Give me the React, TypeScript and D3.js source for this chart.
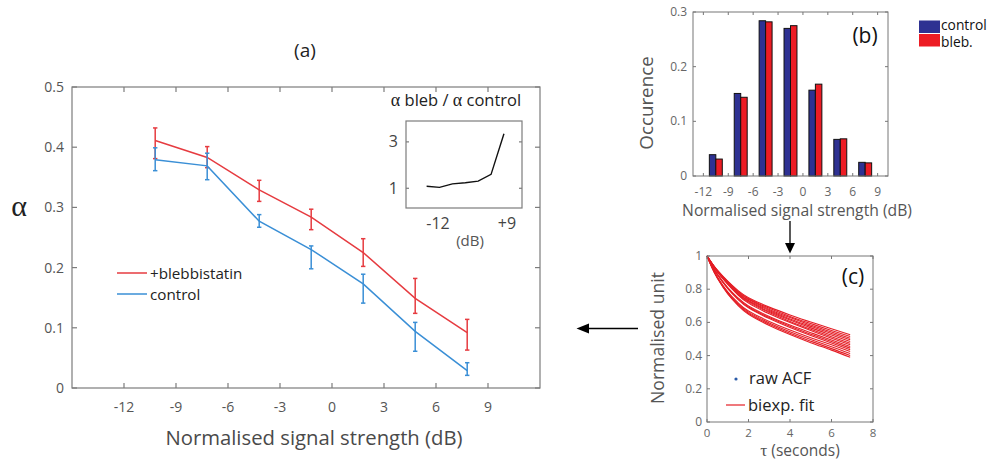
import React from 'react';
import * as d3 from 'd3';

// ---------- Panel (a) data ----------
const dbCenters = [-10.2, -7.2, -4.2, -1.2, 1.8, 4.8, 7.8];
const alphaBleb = [0.411, 0.383, 0.329, 0.284, 0.225, 0.149, 0.092];
const blebHi = [0.432, 0.401, 0.345, 0.297, 0.248, 0.182, 0.114];
const blebLo = [0.381, 0.366, 0.310, 0.263, 0.202, 0.124, 0.063];
const alphaControl = [0.379, 0.369, 0.277, 0.230, 0.173, 0.094, 0.029];
const controlHi = [0.399, 0.390, 0.288, 0.236, 0.189, 0.109, 0.042];
const controlLo = [0.361, 0.346, 0.267, 0.198, 0.141, 0.061, 0.021];
const mainXTicks = [-12, -9, -6, -3, 0, 3, 6, 9];
const mainYTicks = [0, 0.1, 0.2, 0.3, 0.4, 0.5];
const seriesNames = ['+blebbistatin', 'control'];

// inset ratio
const ratioValues = [1.09, 1.04, 1.19, 1.24, 1.31, 1.60, 3.35];
const insetYTicks = [1, 3];
const insetXLabels = ['-12', '+9'];

// ---------- Panel (b) data ----------
const histCenters = [-10.5, -7.5, -4.5, -1.5, 1.5, 4.5, 7.5];
const occControl = [0.039, 0.151, 0.284, 0.270, 0.157, 0.067, 0.025];
const occBleb = [0.031, 0.144, 0.282, 0.275, 0.168, 0.068, 0.024];
const histXTicks = [-12, -9, -6, -3, 0, 3, 6, 9];
const histYTicks = [0, 0.1, 0.2, 0.3];
const histLegend = ['control', 'bleb.'];

// ---------- Panel (c) data ----------
const tauSamples = [0, 0.25, 0.5, 1, 1.5, 2, 3, 4, 5, 6, 6.9];
const acfCurves = [
  [1, 0.955, 0.915, 0.848, 0.791, 0.749, 0.692, 0.645, 0.602, 0.562, 0.526],
  [1, 0.954, 0.913, 0.845, 0.787, 0.743, 0.685, 0.636, 0.593, 0.551, 0.515],
  [1, 0.953, 0.911, 0.842, 0.782, 0.738, 0.678, 0.629, 0.584, 0.542, 0.505],
  [1, 0.952, 0.909, 0.838, 0.778, 0.732, 0.672, 0.621, 0.576, 0.533, 0.495],
  [1, 0.951, 0.907, 0.835, 0.773, 0.727, 0.665, 0.614, 0.567, 0.524, 0.485],
  [1, 0.950, 0.905, 0.832, 0.769, 0.722, 0.659, 0.606, 0.559, 0.514, 0.475],
  [1, 0.949, 0.904, 0.829, 0.765, 0.716, 0.652, 0.599, 0.551, 0.505, 0.465],
  [1, 0.941, 0.891, 0.810, 0.747, 0.699, 0.636, 0.584, 0.538, 0.494, 0.455],
  [1, 0.940, 0.889, 0.807, 0.742, 0.693, 0.629, 0.577, 0.529, 0.485, 0.445],
  [1, 0.939, 0.887, 0.803, 0.737, 0.688, 0.623, 0.569, 0.521, 0.476, 0.435],
  [1, 0.931, 0.873, 0.784, 0.718, 0.669, 0.606, 0.554, 0.508, 0.465, 0.425],
  [1, 0.929, 0.871, 0.779, 0.712, 0.662, 0.597, 0.544, 0.497, 0.453, 0.412],
  [1, 0.928, 0.868, 0.775, 0.706, 0.655, 0.589, 0.535, 0.487, 0.442, 0.400],
  [1, 0.927, 0.866, 0.771, 0.701, 0.649, 0.582, 0.527, 0.478, 0.433, 0.390],
];
const acfXTicks = [0, 2, 4, 6, 8];
const acfYTicks = [0, 0.2, 0.4, 0.6, 0.8, 1];
const acfLegend = ['raw ACF', 'biexp. fit'];

// ---------- styling ----------
const FONT = "'Open Sans', sans-serif";
const SERIF = "'Liberation Serif', 'DejaVu Serif', serif";
const RED = '#e63b40';
const BLUE = '#3a8fd6';
const BAR_BLUE = '#2e3192';
const BAR_RED = '#ed1c24';
const CURVE_RED = '#e41e26';
const AXIS = '#7c7c7c';
const LABEL = '#555';

const fmt = (v: number) => (v === 0 ? '0' : String(+v.toFixed(2)));

type Scale = d3.ScaleLinear<number, number>;

function BoxTicks({ xs, ys, xTicks, yTicks, len, color, sw = 1 }: {
  xs: Scale; ys: Scale; xTicks: number[]; yTicks: number[]; len: number; color: string; sw?: number;
}) {
  const [x0, x1] = xs.range();
  const [y1, y0] = ys.range();
  return (
    <g stroke={color} strokeWidth={sw} fill="none">
      <rect x={x0} y={y0} width={x1 - x0} height={y1 - y0} />
      {xTicks.map((t) => (
        <g key={'x' + t}>
          <line x1={xs(t)} x2={xs(t)} y1={y1} y2={y1 - len} />
          <line x1={xs(t)} x2={xs(t)} y1={y0} y2={y0 + len} />
        </g>
      ))}
      {yTicks.map((t) => (
        <g key={'y' + t}>
          <line x1={x0} x2={x0 + len} y1={ys(t)} y2={ys(t)} />
          <line x1={x1} x2={x1 - len} y1={ys(t)} y2={ys(t)} />
        </g>
      ))}
    </g>
  );
}

function PanelA() {
  const xs = d3.scaleLinear().domain([-15, 12]).range([72, 540]);
  const ys = d3.scaleLinear().domain([0, 0.5]).range([388, 87]);
  const line = d3.line<[number, number]>().x((d) => xs(d[0])).y((d) => ys(d[1]));
  const series = [
    { name: seriesNames[0], vals: alphaBleb, hi: blebHi, lo: blebLo, color: RED },
    { name: seriesNames[1], vals: alphaControl, hi: controlHi, lo: controlLo, color: BLUE },
  ];
  // inset
  const ixs = d3.scaleLinear().domain([-15, 12]).range([406, 522]);
  const iys = d3.scaleLinear().domain([0.15, 3.9]).range([208, 121]);
  const iline = d3.line<number>().x((_, i) => ixs(dbCenters[i])).y((d) => iys(d));
  return (
    <g>
      <text x={305} y={57} textAnchor="middle" fontFamily={FONT} fontSize={19} fill="#222">(a)</text>
      <BoxTicks xs={xs} ys={ys} xTicks={mainXTicks} yTicks={mainYTicks} len={5} color={AXIS} sw={1.2} />
      {mainXTicks.map((t) => (
        <text key={t} x={xs(t)} y={412} textAnchor="middle" fontFamily={FONT} fontSize={14} fill={LABEL}>{t}</text>
      ))}
      {mainYTicks.map((t) => (
        <text key={t} x={64} y={ys(t) + 5} textAnchor="end" fontFamily={FONT} fontSize={14} fill={LABEL}>{fmt(t)}</text>
      ))}
      <text x={314} y={445} textAnchor="middle" fontFamily={FONT} fontSize={20.3} fill="#4a4a4a">Normalised signal strength (dB)</text>
      <text x={19} y={216} textAnchor="middle" fontFamily={SERIF} fontSize={30} fill="#222">α</text>
      {series.map((s) => (
        <g key={s.name}>
          <path d={line(dbCenters.map((x, i) => [x, s.vals[i]]) as [number, number][]) || ''} fill="none" stroke={s.color} strokeWidth={1.5} />
          {dbCenters.map((x, i) => (
            <g key={i} stroke={s.color} strokeWidth={1.5}>
              <line x1={xs(x)} x2={xs(x)} y1={ys(s.hi[i])} y2={ys(s.lo[i])} />
              <line x1={xs(x) - 2.2} x2={xs(x) + 2.2} y1={ys(s.hi[i])} y2={ys(s.hi[i])} />
              <line x1={xs(x) - 2.2} x2={xs(x) + 2.2} y1={ys(s.lo[i])} y2={ys(s.lo[i])} />
            </g>
          ))}
        </g>
      ))}
      {series.map((s, i) => (
        <g key={'lg' + i}>
          <line x1={117} x2={147} y1={273 + i * 21} y2={273 + i * 21} stroke={s.color} strokeWidth={1.5} />
          <text x={150} y={278.5 + i * 21} fontFamily={FONT} fontSize={15.2} fill="#222">{s.name}</text>
        </g>
      ))}
      {/* inset */}
      <text x={456} y={106} textAnchor="middle" fontFamily={FONT} fontSize={16.5} fill="#222">
        <tspan fontFamily={SERIF} fontSize={18}>α</tspan> bleb / <tspan fontFamily={SERIF} fontSize={18}>α</tspan> control
      </text>
      <BoxTicks xs={ixs} ys={iys} xTicks={[]} yTicks={insetYTicks} len={3} color={AXIS} sw={1.2} />
      {insetYTicks.map((t) => (
        <text key={t} x={398} y={iys(t) + 5.5} textAnchor="end" fontFamily={FONT} fontSize={16} fill="#444">{t}</text>
      ))}
      <path d={iline(ratioValues) || ''} fill="none" stroke="#111" strokeWidth={1.4} />
      <text x={438} y={229} textAnchor="middle" fontFamily={FONT} fontSize={16} fill="#444">{insetXLabels[0]}</text>
      <text x={507} y={229} textAnchor="middle" fontFamily={FONT} fontSize={16} fill="#444">{insetXLabels[1]}</text>
      <text x={470} y={246} textAnchor="middle" fontFamily={FONT} fontSize={15} fill="#555">(dB)</text>
    </g>
  );
}

function PanelB() {
  const xs = d3.scaleLinear().domain([-13.25, 10.25]).range([693, 888]);
  const ys = d3.scaleLinear().domain([0, 0.3]).range([176, 12]);
  const bw = 0.78;
  return (
    <g>
      {histCenters.map((c, i) => (
        <g key={i} stroke="#111" strokeWidth={1}>
          <rect x={xs(c - bw)} y={ys(occControl[i])} width={xs(c) - xs(c - bw)} height={ys(0) - ys(occControl[i])} fill={BAR_BLUE} />
          <rect x={xs(c)} y={ys(occBleb[i])} width={xs(c + bw) - xs(c)} height={ys(0) - ys(occBleb[i])} fill={BAR_RED} />
        </g>
      ))}
      <BoxTicks xs={xs} ys={ys} xTicks={histXTicks} yTicks={histYTicks} len={3} color="#777" sw={1} />
      {histXTicks.map((t) => (
        <text key={t} x={xs(t)} y={196} textAnchor="middle" fontFamily={FONT} fontSize={12} fill="#666">{t}</text>
      ))}
      {histYTicks.map((t) => (
        <text key={t} x={687} y={ys(t) + 4} textAnchor="end" fontFamily={FONT} fontSize={12} fill="#666">{fmt(t)}</text>
      ))}
      <text x={797} y={216} textAnchor="middle" fontFamily={FONT} fontSize={15.7} fill="#555">Normalised signal strength (dB)</text>
      <text transform="translate(653,103) rotate(-90)" textAnchor="middle" fontFamily={FONT} fontSize={18.8} fill="#555">Occurence</text>
      <text x={865} y={43} textAnchor="middle" fontFamily={FONT} fontSize={21} fill="#111">(b)</text>
      {histLegend.map((n, i) => (
        <g key={n}>
          <rect x={919} y={20.5 + i * 13.5} width={21} height={12.5} fill={i === 0 ? BAR_BLUE : BAR_RED} />
          <text x={941} y={30 + i * 17} fontFamily={FONT} fontSize={13.8} fill="#111">{n}</text>
        </g>
      ))}
    </g>
  );
}

function PanelC() {
  const xs = d3.scaleLinear().domain([0, 8]).range([707, 873]);
  const ys = d3.scaleLinear().domain([0, 1]).range([422, 256]);
  const line = d3.line<number>().x((_, i) => xs(tauSamples[i])).y((d) => ys(d)).curve(d3.curveNatural);
  return (
    <g>
      {acfCurves.map((c, k) => (
        <path key={k} d={line(c) || ''} fill="none" stroke={CURVE_RED} strokeWidth={1.1} />
      ))}
      <BoxTicks xs={xs} ys={ys} xTicks={acfXTicks} yTicks={acfYTicks} len={3} color="#777" sw={1} />
      {acfXTicks.map((t) => (
        <text key={t} x={xs(t)} y={436.5} textAnchor="middle" fontFamily={FONT} fontSize={11.5} fill="#666">{t}</text>
      ))}
      {acfYTicks.map((t) => (
        <text key={t} x={702} y={ys(t) + 4} textAnchor="end" fontFamily={FONT} fontSize={12} fill="#666">{fmt(t)}</text>
      ))}
      <text x={800} y={455.5} textAnchor="middle" fontFamily={FONT} fontSize={15.5} fill="#555">
        <tspan fontFamily={SERIF} fontSize={17.5}>τ</tspan>  (seconds)
      </text>
      <text transform="translate(664,338) rotate(-90)" textAnchor="middle" fontFamily={FONT} fontSize={17.6} fill="#555">Normalised unit</text>
      <text x={853} y={284} textAnchor="middle" fontFamily={FONT} fontSize={21} fill="#111">(c)</text>
      <circle cx={736} cy={379} r={1.6} fill="#2b5ba8" />
      <text x={749} y={384} fontFamily={FONT} fontSize={16.5} fill="#222">{acfLegend[0]}</text>
      <line x1={726} x2={745} y1={405} y2={405} stroke={CURVE_RED} strokeWidth={1.2} />
      <text x={748} y={410.5} fontFamily={FONT} fontSize={16.5} fill="#222">{acfLegend[1]}</text>
    </g>
  );
}

function Arrows() {
  return (
    <g fill="#000" stroke="#000">
      <line x1={588} x2={638} y1={328.5} y2={328.5} strokeWidth={1.3} />
      <polygon points="576.5,328.5 589,323.5 589,333.5" stroke="none" />
      <line x1={790} x2={790} y1={221} y2={244} strokeWidth={1.3} />
      <polygon points="790,253.5 785,243 795,243" stroke="none" />
    </g>
  );
}

export default function App() {
  return (
    <svg width={992} height={461} viewBox="0 0 992 461" style={{ position: 'absolute', left: 0, top: 0, background: '#fff' }}>
      <rect width={992} height={461} fill="#fff" />
      <PanelA />
      <PanelB />
      <PanelC />
      <Arrows />
    </svg>
  );
}
